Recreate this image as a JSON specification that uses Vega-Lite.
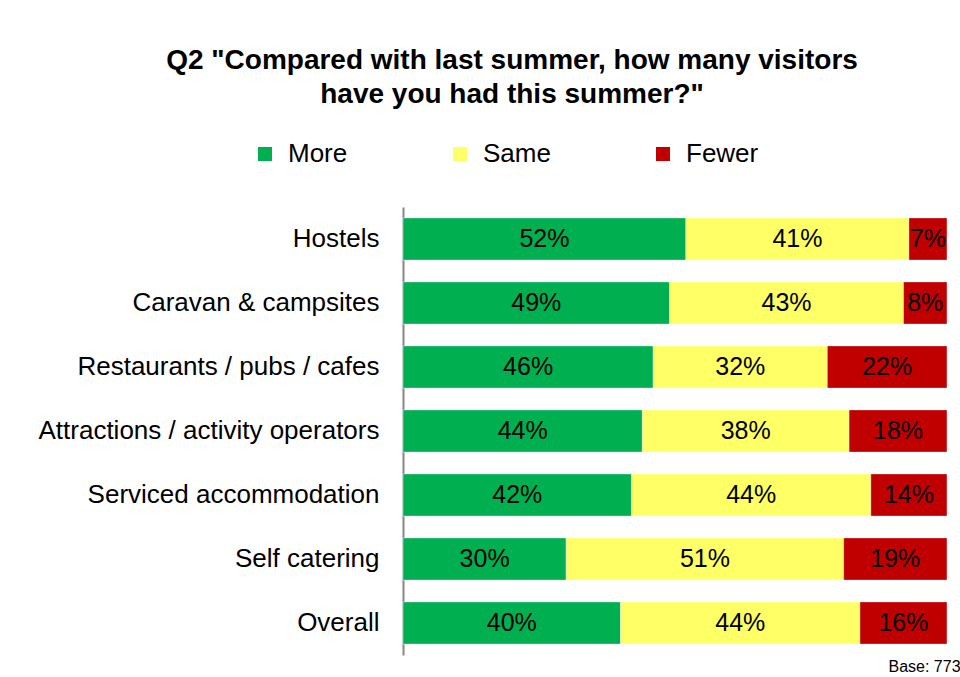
{
  "$schema": "https://vega.github.io/schema/vega-lite/v6.json",
  "width": 544,
  "height": 448,
  "padding": {"left": 37, "top": 47, "right": 5, "bottom": 5},
  "background": "white",
  "title": {
    "text": ["Q2 \"Compared with last summer, how many visitors", "have you had this summer?\""],
    "font": "Liberation Sans",
    "fontSize": 28,
    "fontWeight": "bold",
    "lineHeight": 34,
    "color": "black",
    "anchor": "middle",
    "frame": "group",
    "dx": -163,
    "offset": 32
  },
  "data": {
    "values": [
      {"cat": "Hostels", "resp": "More", "pct": 52},
      {"cat": "Hostels", "resp": "Same", "pct": 41},
      {"cat": "Hostels", "resp": "Fewer", "pct": 7},
      {"cat": "Caravan & campsites", "resp": "More", "pct": 49},
      {"cat": "Caravan & campsites", "resp": "Same", "pct": 43},
      {"cat": "Caravan & campsites", "resp": "Fewer", "pct": 8},
      {"cat": "Restaurants  / pubs / cafes", "resp": "More", "pct": 46},
      {"cat": "Restaurants  / pubs / cafes", "resp": "Same", "pct": 32},
      {"cat": "Restaurants  / pubs / cafes", "resp": "Fewer", "pct": 22},
      {"cat": "Attractions / activity operators", "resp": "More", "pct": 44},
      {"cat": "Attractions / activity operators", "resp": "Same", "pct": 38},
      {"cat": "Attractions / activity operators", "resp": "Fewer", "pct": 18},
      {"cat": "Serviced accommodation", "resp": "More", "pct": 42},
      {"cat": "Serviced accommodation", "resp": "Same", "pct": 44},
      {"cat": "Serviced accommodation", "resp": "Fewer", "pct": 14},
      {"cat": "Self catering", "resp": "More", "pct": 30},
      {"cat": "Self catering", "resp": "Same", "pct": 51},
      {"cat": "Self catering", "resp": "Fewer", "pct": 19},
      {"cat": "Overall", "resp": "More", "pct": 40},
      {"cat": "Overall", "resp": "Same", "pct": 44},
      {"cat": "Overall", "resp": "Fewer", "pct": 16}
    ]
  },
  "transform": [
    {"calculate": "indexof(['More','Same','Fewer'], datum.resp)", "as": "ord"},
    {"stack": "pct", "groupby": ["cat"], "sort": [{"field": "ord", "order": "ascending"}], "as": ["x0", "x1"]},
    {"calculate": "(datum.x0 + datum.x1) / 2", "as": "xm"},
    {"calculate": "datum.pct + '%'", "as": "lab"}
  ],
  "encoding": {
    "y": {
      "field": "cat",
      "type": "nominal",
      "sort": ["Hostels", "Caravan & campsites", "Restaurants  / pubs / cafes", "Attractions / activity operators", "Serviced accommodation", "Self catering", "Overall"],
      "scale": {"paddingInner": 0.34, "paddingOuter": 0.17},
      "axis": {
        "title": null,
        "ticks": false,
        "domainColor": "#888888",
        "domainWidth": 2,
        "labelFont": "Liberation Sans",
        "labelFontSize": 26,
        "labelColor": "black",
        "labelPadding": 24,
        "labelLimit": 500
      }
    }
  },
  "layer": [
    {
      "mark": {"type": "bar", "stroke": "#ffffff", "strokeOpacity": 0.4, "strokeWidth": 1},
      "encoding": {
        "x": {
          "field": "x0",
          "type": "quantitative",
          "scale": {"domain": [0, 100], "nice": false},
          "axis": {
            "title": "Base: 773",
            "labels": false,
            "ticks": false,
            "domain": false,
            "grid": false,
            "titleFont": "Liberation Sans",
            "titleFontSize": 16,
            "titleFontWeight": "normal",
            "titleColor": "black",
            "titleAlign": "left",
            "titleAnchor": "start",
            "titleX": 485,
            "titleY": 11,
            "titleBaseline": "middle"
          }
        },
        "x2": {"field": "x1"},
        "color": {
          "field": "resp",
          "type": "nominal",
          "scale": {"domain": ["More", "Same", "Fewer"], "range": ["#00B050", "#FFFF66", "#C00000"]},
          "legend": {
            "title": null,
            "orient": "none",
            "direction": "horizontal",
            "legendX": -151,
            "legendY": -66,
            "symbolType": "square",
            "symbolSize": 196,
            "symbolStrokeWidth": 0,
            "symbolOpacity": 1,
            "labelFont": "Liberation Sans",
            "labelFontSize": 26,
            "labelColor": "black",
            "labelOffset": 10,
            "columnPadding": 99
          }
        }
      }
    },
    {
      "mark": {"type": "text", "font": "Liberation Sans", "fontSize": 25, "color": "black", "align": "center", "baseline": "middle"},
      "encoding": {
        "x": {"field": "xm", "type": "quantitative"},
        "text": {"field": "lab", "type": "nominal"}
      }
    }
  ],
  "config": {"view": {"stroke": null}}
}
